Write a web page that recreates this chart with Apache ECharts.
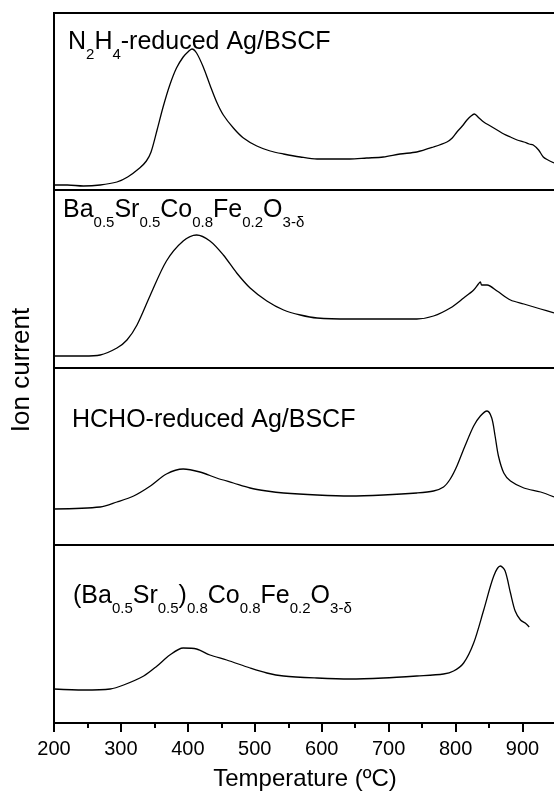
<!DOCTYPE html>
<html>
<head>
<meta charset="utf-8">
<script src="https://cdn.jsdelivr.net/npm/echarts@6/dist/echarts.min.js"></script>
<style>
html,body{margin:0;padding:0;background:#fff;}
#c{width:554px;height:793px;}
</style>
</head>
<body>
<div id="c"></div>
<script>
// Temperature (ºC) ticks
const xTicks = [200, 300, 400, 500, 600, 700, 800, 900];
// Ion current (a.u.), one array of [temperature, value] per panel
const n2h4Ag = [[200,5],[220,5],[244,4],[269,5],[294,8],[310,13],[328,22],[338,29],[345,38],[354,60],[363,83],[373,105],[383,122],[393,133],[400,138],[406,141],[413,137],[423,123],[433,105],[443,88],[453,75],[468,62],[483,52],[503,44],[523,39],[543,36],[568,33],[593,31],[617,31],[642,31],[667,32],[692,33],[717,36],[742,38],[767,43],[787,48],[795,52],[802,58],[810,64],[817,70],[823,74],[828,76],[835,72],[842,68],[852,64],[862,60],[872,56],[882,53],[892,50],[902,48],[910,46],[916,45],[924,40],[931,33],[938,30],[947,27]];
const bscf = [[200,12],[244,12],[269,13],[294,20],[309,28],[324,43],[344,73],[368,107],[393,127],[413,133],[433,127],[453,113],[473,95],[493,80],[518,67],[543,58],[568,53],[593,50],[642,49],[692,49],[742,49],[767,52],[792,60],[812,70],[827,78],[834,84],[837,86],[839,83],[847,83],[862,77],[882,68],[902,64],[927,59],[947,55]];
const hchoAg = [[200,36],[269,38],[294,43],[319,49],[344,59],[368,71],[393,76],[418,73],[443,67],[468,62],[493,57],[518,54],[543,52],[593,50],[642,49],[692,50],[742,52],[767,54],[782,58],[792,66],[802,79],[814,99],[827,119],[837,129],[847,134],[854,127],[859,109],[864,89],[872,72],[882,64],[902,57],[927,53],[947,48]];
const bsA = [[200,34],[244,33],[284,34],[304,38],[334,47],[354,57],[373,68],[393,75],[413,74],[433,68],[458,63],[493,55],[518,50],[543,47],[593,45],[642,44],[692,45],[742,47],[782,49],[797,52],[812,60],[827,80],[842,113],[857,147],[867,157],[874,152],[882,130],[889,112],[897,103],[904,100],[910,96]];
const seriesData = [n2h4Ag, bscf, hchoAg, bsA];

const FONT = "'Liberation Sans', Arial, Helvetica, sans-serif";
const grids = [[13,177],[190,178],[368,177],[545,178]];

const chart = echarts.init(document.getElementById('c'));
const option = {
  backgroundColor: '#fff',
  animation: false,
  grid: grids.map(g => ({left: 54, width: 502, top: g[0], height: g[1], outerBoundsMode: 'none', containLabel: false,
    show: true, borderColor: '#000', borderWidth: 2, backgroundColor: 'transparent'})),
  xAxis: grids.map((g, i) => {
    const last = i === grids.length - 1;
    return {
      type: 'value', gridIndex: i, min: 200, max: 950, interval: 100,
      axisLine: {show: false},
      splitLine: {show: false},
      axisTick: {show: last, inside: false, length: 9, lineStyle: {color: '#000', width: 2}},
      minorTick: {show: last, splitNumber: 2, length: 5, lineStyle: {color: '#000', width: 2}},
      axisLabel: {show: last, margin: 16, fontSize: 20, color: '#000', fontFamily: FONT,
        formatter: v => xTicks.indexOf(v) >= 0 ? String(v) : ''},
      name: last ? 'Temperature (ºC)' : '',
      nameLocation: 'middle', nameGap: 44,
      nameTextStyle: {fontSize: 24, color: '#000', fontFamily: FONT}
    };
  }),
  yAxis: grids.map((g, i) => ({type: 'value', gridIndex: i, min: 0, max: g[1], show: false})),
  series: seriesData.map((d, i) => ({
    type: 'line', xAxisIndex: i, yAxisIndex: i, data: d, showSymbol: false, smooth: 0.3,
    lineStyle: {color: '#000', width: 1.3}
  })),
  graphic: [
    {type: 'text', x: 22, y: 370, rotation: Math.PI / 2,
      style: {text: 'Ion current', fontSize: 26, fontFamily: FONT, fill: '#000', align: 'center', verticalAlign: 'middle'}},
    ...[
      {x: 68, y: 27, t: '{m|N}{s|2}{m|H}{s|4}{m|-reduced Ag/BSCF}'},
      {x: 63, y: 195, t: '{m|Ba}{s|0.5}{m|Sr}{s|0.5}{m|Co}{s|0.8}{m|Fe}{s|0.2}{m|O}{s|3-δ}'},
      {x: 72, y: 405, t: '{m|HCHO-reduced Ag/BSCF}'},
      {x: 73, y: 581, t: '{m|(Ba}{s|0.5}{m|Sr}{s|0.5}{m|)}{s|0.8}{m|Co}{s|0.8}{m|Fe}{s|0.2}{m|O}{s|3-δ}'}
    ].map(l => ({
      type: 'text', x: l.x, y: l.y,
      style: {
        text: l.t, align: 'left', verticalAlign: 'top', fill: '#000', fontFamily: FONT,
        rich: {
          m: {fontSize: 25, lineHeight: 30, fontFamily: FONT, fill: '#000', verticalAlign: 'middle'},
          s: {fontSize: 15, lineHeight: 15, padding: [26, 0, 0, 0], fontFamily: FONT, fill: '#000', verticalAlign: 'middle'}
        }
      }
    }))
  ]
};
chart.setOption(option);
</script>
</body>
</html>
